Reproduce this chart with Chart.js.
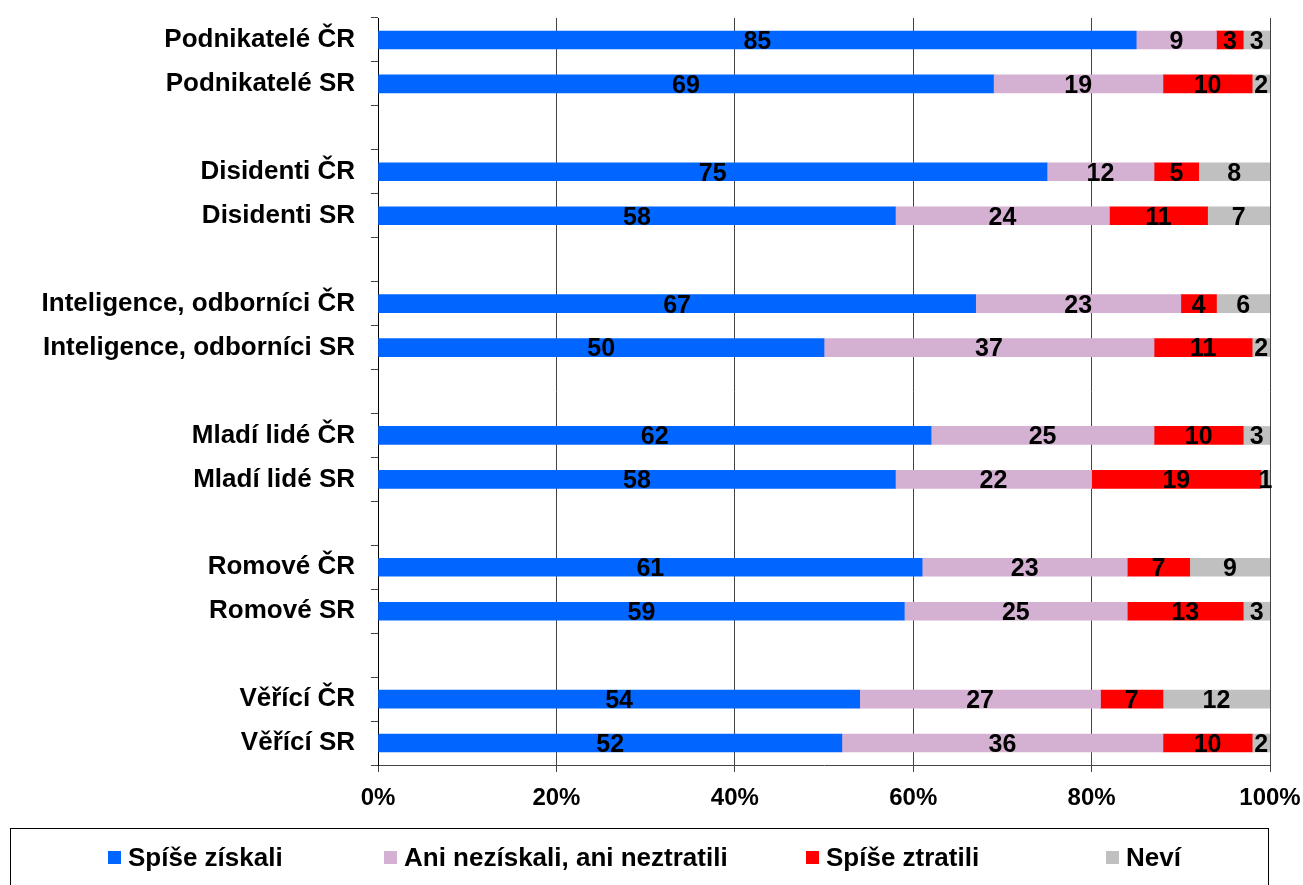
<!DOCTYPE html>
<html>
<head>
<meta charset="utf-8">
<script src="https://cdn.jsdelivr.net/npm/chart.js@4"></script>
<style>
  body { margin: 0; background: #fff; font-family: "Liberation Sans", Arial, sans-serif; }
  #wrap { position: relative; width: 1303px; height: 885px; }
  #legend {
    position: absolute; left: 10px; top: 828px; width: 1259px; height: 70px;
    border: 1px solid #000; box-sizing: border-box;
  }
  .item { position: absolute; top: 13px; font-weight: bold; font-size: 26px; color: #000; white-space: nowrap; }
  .box { display: inline-block; width: 13px; height: 13px; margin-right: 7px; vertical-align: 2px; }
</style>
</head>
<body>
<div id="wrap">
  <canvas id="chart" width="1303" height="885"></canvas>
  <div id="legend"></div>
</div>
<script>
// categories (empty strings are spacer rows)
const categories = [
    "Podnikatelé ČR", "Podnikatelé SR", "",
    "Disidenti ČR", "Disidenti SR", "",
    "Inteligence, odborníci ČR", "Inteligence, odborníci SR", "",
    "Mladí lidé ČR", "Mladí lidé SR", "",
    "Romové ČR", "Romové SR", "",
    "Věřící ČR", "Věřící SR"
];

const seriesNames = ["Spíše získali", "Ani nezískali, ani neztratili", "Spíše ztratili", "Neví"];
const seriesColors = ["#0066FF", "#D4B0D2", "#FF0000", "#C0C0C0"];

const ziskali =   [85, 69, null, 75, 58, null, 67, 50, null, 62, 58, null, 61, 59, null, 54, 52];
const ani =       [9, 19, null, 12, 24, null, 23, 37, null, 25, 22, null, 23, 25, null, 27, 36];
const ztratili =  [3, 10, null, 5, 11, null, 4, 11, null, 10, 19, null, 7, 13, null, 7, 10];
const nevi =      [3, 2, null, 8, 7, null, 6, 2, null, 3, 1, null, 9, 3, null, 12, 2];

const xTicks = [0, 20, 40, 60, 80, 100];

const FONT = "'Liberation Sans', Arial, sans-serif";

// draws the value in the middle of each segment
const valueLabels = {
    id: "valueLabels",
    afterDatasetsDraw(chart) {
        const ctx = chart.ctx;
        ctx.save();
        ctx.font = "bold 25px " + FONT;
        ctx.fillStyle = "#000";
        ctx.textAlign = "center";
        ctx.textBaseline = "middle";
        chart.data.datasets.forEach((ds, i) => {
            chart.getDatasetMeta(i).data.forEach((bar, j) => {
                const v = ds.data[j];
                if (v == null) return;
                const cx = (bar.x + bar.base) / 2;
                ctx.fillText(String(v), cx, bar.y + 2);
            });
        });
        ctx.restore();
    }
};

const seriesData = [ziskali, ani, ztratili, nevi];

new Chart(document.getElementById("chart"), {
    type: "bar",
    data: {
        labels: categories,
        datasets: seriesData.map((d, i) => ({
            label: seriesNames[i],
            data: d,
            backgroundColor: seriesColors[i],
            barThickness: 18
        }))
    },
    options: {
        indexAxis: "y",
        responsive: false,
        animation: false,
        layout: { padding: { top: 18, right: 33, bottom: 60, left: 0 } },
        plugins: { legend: { display: false }, tooltip: { enabled: false } },
        scales: {
            x: {
                stacked: true,
                min: 0,
                max: 100,
                afterBuildTicks(scale) { scale.ticks = xTicks.map(v => ({ value: v })); },
                ticks: {
                    callback: v => v + "%",
                    font: { family: FONT, size: 24, weight: "bold" },
                    color: "#000",
                    padding: 12,
                    maxRotation: 0
                },
                grid: { color: "#444", tickLength: 7, tickColor: "#444" },
                border: { color: "#444" },
                afterFit(scale) {
                    scale.height = 60;
                    scale.paddingLeft = 0;
                    scale.paddingRight = 0;
                }
            },
            y: {
                stacked: true,
                ticks: {
                    font: { family: FONT, size: 26, weight: "bold" },
                    color: "#000",
                    padding: 16,
                    autoSkip: false
                },
                grid: { drawOnChartArea: false, tickLength: 7, tickColor: "#444", offset: true },
                border: { color: "#000" },
                afterFit(scale) {
                    scale.width = 378;
                    scale.paddingTop = 0;
                    scale.paddingBottom = 0;
                }
            }
        }
    },
    plugins: [valueLabels]
});

// legend below the chart
const legendLeft = [97, 373, 795, 1095];
const legend = document.getElementById("legend");
seriesNames.forEach((name, i) => {
    const el = document.createElement("div");
    el.className = "item";
    el.style.left = legendLeft[i] + "px";
    el.innerHTML = '<span class="box" style="background:' + seriesColors[i] + '"></span>' + name;
    legend.appendChild(el);
});
</script>
</body>
</html>
